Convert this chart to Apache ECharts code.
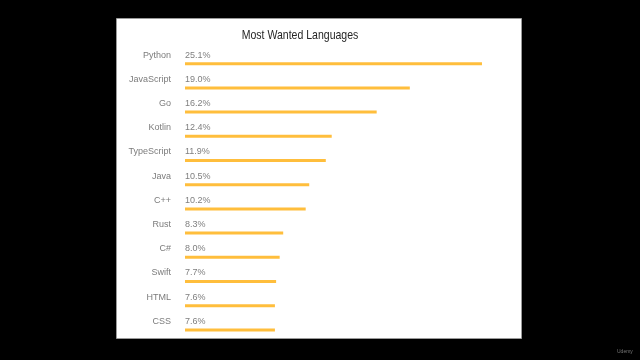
<!DOCTYPE html>
<html>
<head>
<meta charset="utf-8">
<script src="https://cdn.jsdelivr.net/npm/echarts@6/dist/echarts.min.js"></script>
<style>html,body{margin:0;padding:0;background:#000;}#c{width:640px;height:360px;}</style>
</head>
<body>
<div id="c"></div>
<script>
const categories = ['Python','JavaScript','Go','Kotlin','TypeScript','Java','C++','Rust','C#','Swift','HTML','CSS'];
const values = [25.1, 19.0, 16.2, 12.4, 11.9, 10.5, 10.2, 8.3, 8.0, 7.7, 7.6, 7.6];
const titleText = 'Most Wanted Languages';

const chart = echarts.init(document.getElementById('c'), null, {renderer: 'canvas'});
chart.setOption({
  backgroundColor: '#000000',
  animation: false,
  graphic: [
    {type: 'rect', z: -10, shape: {x: 116.5, y: 18.5, width: 405, height: 320}, style: {fill: '#ffffff', stroke: '#9a9a9a', lineWidth: 1}},
    {type: 'text', x: 300, y: 35, scaleX: 0.81, z: 10, style: {text: titleText, fill: '#262626', fontSize: 13, fontFamily: 'Liberation Sans', align: 'center', verticalAlign: 'middle'}},
    {type: 'text', left: 617, top: 349, style: {text: 'Udemy', fill: '#777', fontSize: 5, fontFamily: 'Liberation Sans'}}
  ],
  grid: {left: 185, top: 51.6, width: 331.3, height: 290.4, containLabel: false},
  xAxis: {type: 'value', min: 0, max: 28, show: false},
  yAxis: {
    type: 'category', data: categories, inverse: true,
    axisLine: {show: false}, axisTick: {show: false}, splitLine: {show: false},
    axisLabel: {show: false}
  },
  series: [{
    type: 'bar', data: values, barWidth: 3,
    itemStyle: {color: '#FFBE3C'},
    label: {show: true, position: [0, -7], verticalAlign: 'middle', align: 'left', formatter: p => p.value.toFixed(1) + '%', fontSize: 9, fontFamily: 'Liberation Sans', color: '#7f7f7f'}
  }, {
    type: 'scatter', symbolSize: 0, silent: true,
    data: categories.map((c, i) => [0, c]),
    label: {show: true, position: 'left', distance: 14, offset: [0, -8.5], formatter: p => p.value[1], fontSize: 9, fontFamily: 'Liberation Sans', color: '#595959'}
  }]
});
</script>
</body>
</html>
